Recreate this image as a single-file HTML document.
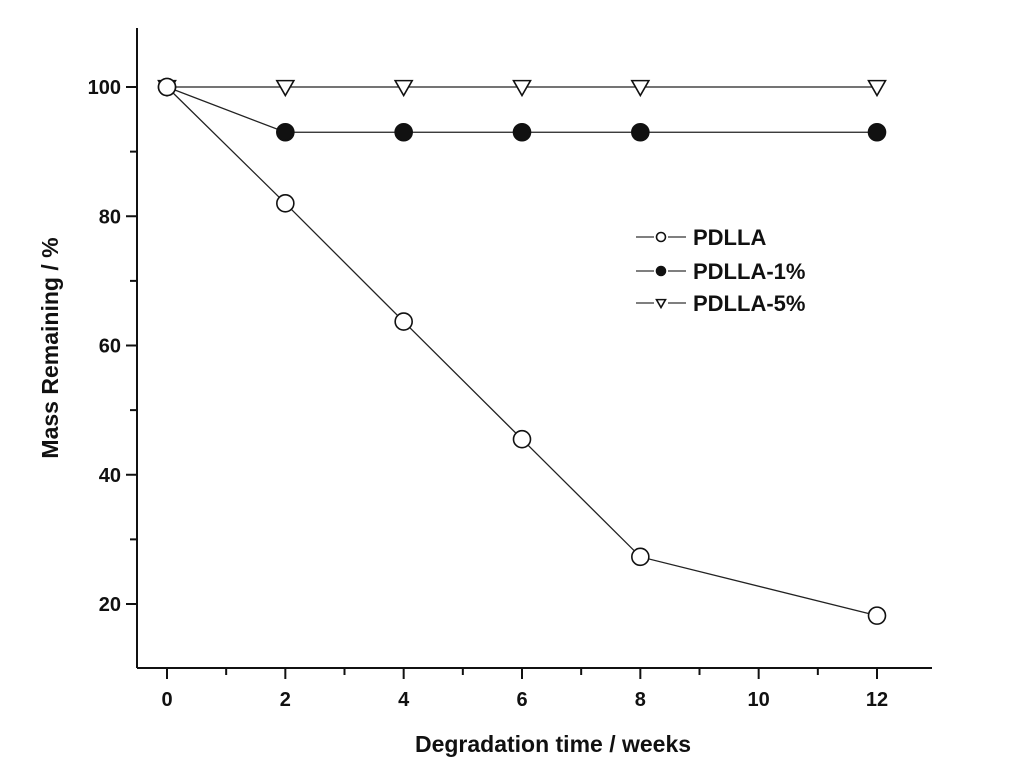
<!DOCTYPE html>
<html><head><meta charset="utf-8"><style>
html,body{margin:0;padding:0;background:#fff;}
svg{display:block;font-family:"Liberation Sans",Arial,sans-serif;}
</style></head><body>
<svg id="chart" width="1024" height="772" viewBox="0 0 1024 772" xmlns="http://www.w3.org/2000/svg">
<g id="axes"></g>
<g id="series"></g>
<g id="legend"></g>
<text x="553" y="752" font-size="23" font-weight="bold" text-anchor="middle" fill="#111">Degradation time / weeks</text>
<text transform="translate(58,348) rotate(-90)" font-size="23" font-weight="bold" text-anchor="middle" fill="#111">Mass Remaining / %</text>
</svg>
<script>
const weeks = [0, 2, 4, 6, 8, 12];
const pdlla = [100, 82, 63.7, 45.5, 27.3, 18.2];
const pdlla1 = [100, 93, 93, 93, 93, 93];
const pdlla5 = [100, 100, 100, 100, 100, 100];
const xTicks = [0, 2, 4, 6, 8, 10, 12];
const yTicks = [20, 40, 60, 80, 100];
const seriesNames = ["PDLLA", "PDLLA-1%", "PDLLA-5%"];

const NS = "http://www.w3.org/2000/svg";
const X0 = 137, X1 = 932, Y0 = 668, Y1 = 28;
function xs(v){ return 167 + (v - 0) * (877 - 167) / 12; }
function ys(v){ return 87 + (100 - v) * (604 - 87) / 80; }
function mk(tag, attrs, parent){ const e = document.createElementNS(NS, tag); for (const k in attrs) e.setAttribute(k, attrs[k]); parent.appendChild(e); return e; }

const axes = document.getElementById('axes');
let e = mk('line', {x1:X0, y1:Y0, x2:X1, y2:Y0, stroke:'#111', 'stroke-width':2}, axes);


e = mk('line', {x1:X0, y1:Y0, x2:X0, y2:Y1, stroke:'#111', 'stroke-width':2}, axes);


for (let v = 0; v <= 12; v++) {
  const major = xTicks.includes(v);
  e = mk('line', {x1:xs(v), y1:Y0, x2:xs(v), y2:Y0 + (major ? 11 : 7), stroke:'#111', 'stroke-width':2}, axes);
  
  
}
xTicks.forEach(v => {
  e = mk('text', {x:xs(v), y:706, 'font-size':20, 'font-weight':'bold', 'text-anchor':'middle', fill:'#111'}, axes);
  e.textContent = v;
  
  
});
for (let v = 20; v <= 100; v += 10) {
  const major = yTicks.includes(v);
  e = mk('line', {x1:X0, y1:ys(v), x2:X0 - (major ? 11 : 7), y2:ys(v), stroke:'#111', 'stroke-width':2}, axes);
  
  
}
yTicks.forEach(v => {
  e = mk('text', {x:121, y:ys(v) + 7, 'font-size':20, 'font-weight':'bold', 'text-anchor':'end', fill:'#111'}, axes);
  e.textContent = v;
  
  
});

const series = document.getElementById('series');
function marker(kind, cx, cy, r, parent){
  let m;
  if (kind === 'tri') {
    m = mk('polygon', {points:`${cx-r},${cy-r*0.75} ${cx+r},${cy-r*0.75} ${cx},${cy+r}`, fill:'#fff', stroke:'#111', 'stroke-width':1.6}, parent);
  } else {
    m = mk('circle', {cx:cx, cy:cy, r:r, fill: kind === 'filled' ? '#111' : '#fff', stroke:'#111', 'stroke-width':1.6}, parent);
  }
  return m;
}
const allSeries = [[pdlla, 'open'], [pdlla1, 'filled'], [pdlla5, 'tri']];
allSeries.forEach(([vals, kind], i) => {
  const pts = weeks.map((w, j) => xs(w) + ',' + ys(vals[j])).join(' ');
  e = mk('polyline', {points:pts, fill:'none', stroke:'#222', 'stroke-width':1.3}, series);
  
  
});
[2, 1, 0].forEach(i => {
  const [vals, kind] = allSeries[i];
  weeks.forEach((w, j) => {
    e = marker(kind, xs(w), ys(vals[j]), 8.5, series);
    
    
  });
});

const legend = document.getElementById('legend');
const kinds = ['open', 'filled', 'tri'];
[237, 271, 303].forEach((y, i) => {
  e = mk('line', {x1:636, y1:y, x2:654, y2:y, stroke:'#333', 'stroke-width':1.3}, legend);
  
  
  e = mk('line', {x1:668, y1:y, x2:686, y2:y, stroke:'#333', 'stroke-width':1.3}, legend);
  
  
  e = marker(kinds[i], 661, y, 4.5, legend);
  
  
  e = mk('text', {x:693, y:y + 8, 'font-size':22, 'font-weight':'bold', fill:'#111'}, legend);
  e.textContent = seriesNames[i];
  
  
});
</script>
</body></html>
